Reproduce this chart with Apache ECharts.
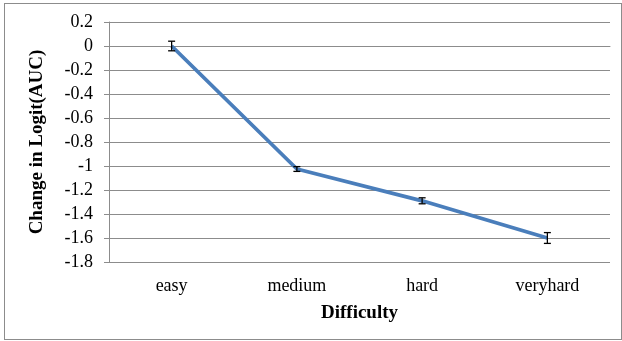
<!DOCTYPE html>
<html>
<head>
<meta charset="utf-8">
<script src="https://cdn.jsdelivr.net/npm/echarts@6/dist/echarts.min.js"></script>
<style>
  html, body { margin: 0; padding: 0; background: #fff; }
  #frame { position: absolute; left: 4px; top: 3px; width: 618px; height: 337px; border: 1px solid #8c8c8c; box-sizing: border-box; }
  #chart { position: absolute; left: 0; top: 0; width: 622px; height: 341px; }
</style>
</head>
<body>
<div id="frame"></div>
<div id="chart"></div>
<script>
// Difficulty levels and the mean change in logit(AUC) with error half-widths
const categories = ['easy', 'medium', 'hard', 'veryhard'];
const meanChange = [0, -1.025, -1.29, -1.60];
const errorHalf = [0.04, 0.02, 0.025, 0.045];
const yTicks = { min: -1.8, max: 0.2, step: 0.2 };

const serif = 'Liberation Serif, Times New Roman, serif';
const gray = '#8c8c8c';

const errorData = categories.map((c, i) => [i, meanChange[i] - errorHalf[i], meanChange[i] + errorHalf[i]]);

const chart = echarts.init(document.getElementById('chart'), null, { renderer: 'canvas' });
chart.setOption({
  animation: false,
  backgroundColor: 'transparent',
  grid: { left: 109, right: 12, top: 22, bottom: 79, containLabel: false },
  xAxis: [
    {
      type: 'category',
      data: categories,
      boundaryGap: true,
      name: 'Difficulty',
      nameLocation: 'middle',
      nameGap: 42,
      nameTextStyle: { fontFamily: serif, fontSize: 19, fontWeight: 'bold', color: '#000' },
      axisLine: { lineStyle: { color: gray, width: 1 } },
      axisTick: { inside: true, length: 5, lineStyle: { color: gray } },
      axisLabel: { fontFamily: serif, fontSize: 18, color: '#000', margin: 15 },
      splitLine: { show: false }
    },
    {
      type: 'category',
      data: categories,
      position: 'bottom',
      boundaryGap: true,
      axisLine: { show: false },
      axisTick: { inside: true, length: 5, alignWithLabel: true, lineStyle: { color: gray } },
      axisLabel: { show: false },
      splitLine: { show: false }
    }
  ],
  yAxis: {
    type: 'value',
    min: yTicks.min,
    max: yTicks.max,
    interval: yTicks.step,
    name: 'Change in Logit(AUC)',
    nameLocation: 'middle',
    nameGap: 62,
    nameTextStyle: { fontFamily: serif, fontSize: 19, fontWeight: 'bold', color: '#000' },
    axisLine: { show: true, lineStyle: { color: gray, width: 1 } },
    axisTick: { show: true, length: 5, lineStyle: { color: gray } },
    axisLabel: {
      fontFamily: serif, fontSize: 18, color: '#000', margin: 16,
      formatter: v => String(Math.round(v * 10) / 10)
    },
    splitLine: { lineStyle: { color: gray, width: 1 } }
  },
  series: [
    {
      type: 'line',
      data: meanChange,
      symbol: 'none',
      lineStyle: { color: '#4a7ebb', width: 3.8 },
      z: 3
    },
    {
      type: 'custom',
      data: errorData,
      z: 4,
      renderItem: (params, api) => {
        const lo = api.coord([api.value(0), api.value(1)]);
        const hi = api.coord([api.value(0), api.value(2)]);
        const x = lo[0], cap = 3.5;
        const style = { stroke: '#000', lineWidth: 1.3 };
        return {
          type: 'group',
          children: [
            { type: 'line', shape: { x1: x, y1: lo[1], x2: x, y2: hi[1] }, style },
            { type: 'line', shape: { x1: x - cap, y1: lo[1], x2: x + cap, y2: lo[1] }, style },
            { type: 'line', shape: { x1: x - cap, y1: hi[1], x2: x + cap, y2: hi[1] }, style }
          ]
        };
      }
    }
  ]
});
</script>
</body>
</html>
